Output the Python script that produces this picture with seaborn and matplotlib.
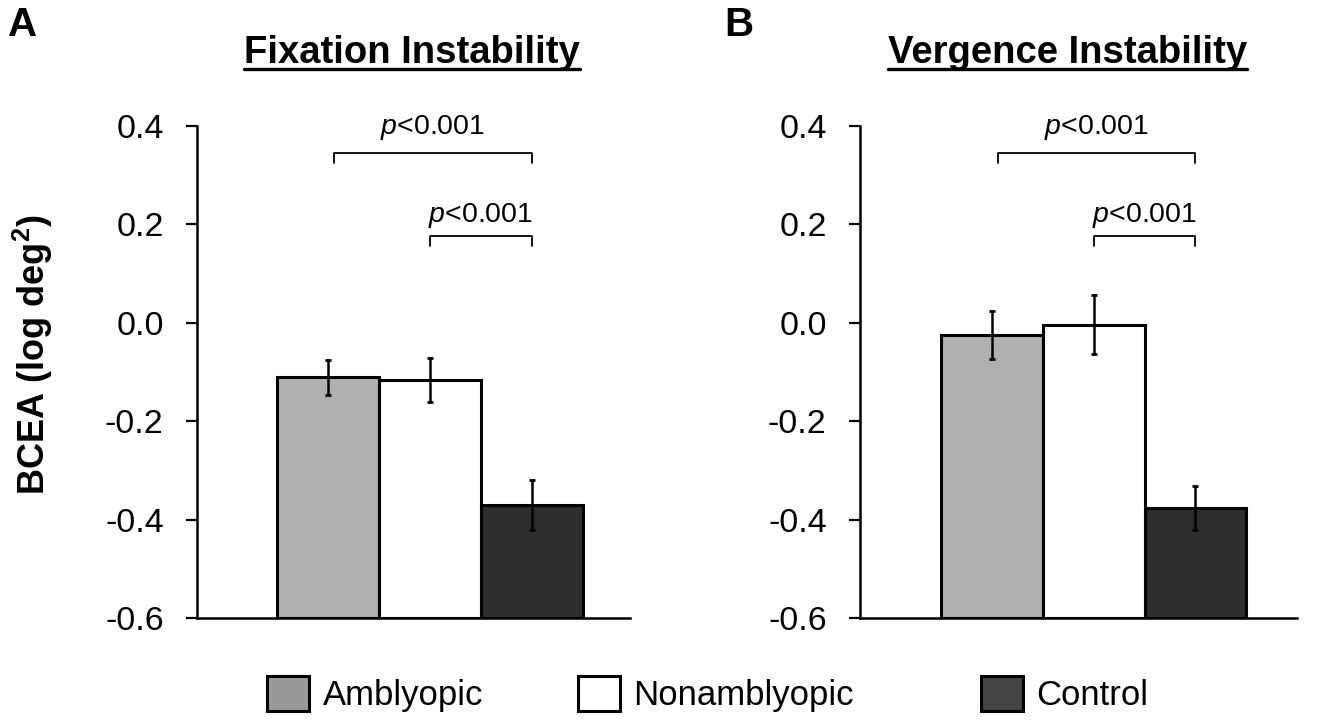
import matplotlib
matplotlib.use("Agg")
import matplotlib.pyplot as plt
import seaborn as sns
import pandas as pd
from matplotlib.patches import Patch
from matplotlib.lines import Line2D

# data
groups = ["Amblyopic", "Nonamblyopic", "Control"]
fixation_mean = [-0.111, -0.116, -0.370]
fixation_err = [0.035, 0.045, 0.051]
vergence_mean = [-0.024, -0.004, -0.376]
vergence_err = [0.049, 0.060, 0.045]
panel_titles = ["Fixation Instability", "Vergence Instability"]
bar_colors = ["#b0b0b0", "#ffffff", "#2e2e2e"]
legend_colors = ["#999999", "#ffffff", "#444444"]
yticks = [0.4, 0.2, 0.0, -0.2, -0.4, -0.6]
sig_text = "$p$<0.001"
base = -0.6

sns.set_style("white")
plt.rcParams["font.family"] = ["Liberation Sans", "DejaVu Sans"]
plt.rcParams["mathtext.fontset"] = "custom"
plt.rcParams["mathtext.rm"] = "Liberation Sans"
plt.rcParams["mathtext.it"] = "Liberation Sans:italic"
plt.rcParams["mathtext.bf"] = "Liberation Sans:bold"
for k in ["text.color", "axes.labelcolor", "xtick.color", "ytick.color"]:
    plt.rcParams[k] = "black"

fig = plt.figure(figsize=(13.34, 7.23), dpi=100)
axes = [fig.add_axes([0.1477, 0.1452, 0.3246, 0.6805]),
        fig.add_axes([0.6447, 0.1452, 0.3276, 0.6805])]
xlims = [(-1.28, 2.96), (-1.30, 3.0)]
title_x = [0.309, 0.800]

panels = [(fixation_mean, fixation_err), (vergence_mean, vergence_err)]
titles = []
for ax, (means, errs), title, xl, tx in zip(axes, panels, panel_titles, xlims, title_x):
    df = pd.DataFrame({"group": groups, "bcea": means})
    sns.barplot(data=df, x="group", y="bcea", hue="group", palette=bar_colors,
                order=groups, hue_order=groups, width=1.0, edgecolor="black",
                linewidth=2.2, legend=False, ax=ax, zorder=2)
    # bars rise from the bottom of the axis, not from zero
    for p in ax.patches:
        h = p.get_y() + p.get_height()
        p.set_y(base)
        p.set_height(h - base)
    ax.errorbar(range(3), means, yerr=errs, fmt="none", ecolor="black",
                elinewidth=1.8, capsize=2.5, capthick=2, zorder=3)
    ax.set_xlim(*xl)
    ax.set_ylim(base, 0.4)
    ax.set_yticks(yticks)
    ax.set_yticklabels([f"{t:.1f}" for t in yticks], fontsize=24.5)
    ax.set_xticks([])
    ax.set_xlabel("")
    ax.set_ylabel("")
    for s in ["top", "right"]:
        ax.spines[s].set_visible(False)
    for s in ["left", "bottom"]:
        ax.spines[s].set_linewidth(1.8)
        ax.spines[s].set_color("black")
    ax.tick_params(axis="y", direction="out", length=8, width=1.6, pad=16, left=True)

    # significance brackets
    for x0, x1, yb, yt in [(0.06, 2.0, 0.345, 0.398), (1.0, 2.0, 0.176, 0.219)]:
        ax.plot([x0, x0, x1, x1], [yb - 0.02, yb, yb, yb - 0.02],
                color="black", lw=1.3, clip_on=False)
        ax.text((x0 + x1) / 2, yt, sig_text, ha="center", va="center", fontsize=20.5)

    t = fig.text(tx, 0.9129, title, ha="center", va="baseline",
                 fontsize=27.5, fontweight="bold")
    titles.append(t)

fig.text(0.006, 0.965, "A", fontsize=29, fontweight="bold", va="center")
fig.text(0.543, 0.965, "B", fontsize=29, fontweight="bold", va="center")
fig.text(0.025, 0.509, "BCEA (log deg$^\\mathbf{2}$)", rotation=90, fontsize=26,
         fontweight="bold", ha="center", va="center")

# underline titles
fig.canvas.draw()
renderer = fig.canvas.get_renderer()
inv = fig.transFigure.inverted()
for t in titles:
    bb = t.get_window_extent(renderer)
    (x0, _), (x1, _) = inv.transform([[bb.x0, bb.y0], [bb.x1, bb.y1]])
    fig.add_artist(Line2D([x0, x1], [0.9046, 0.9046], color="black",
                          lw=2.4, transform=fig.transFigure))

# legend, placed entry by entry
legend_x = [267 / 1334, 578 / 1334, 981 / 1334]
for name, col, lx in zip(groups, legend_colors, legend_x):
    fig.legend(handles=[Patch(facecolor=col, edgecolor="black", linewidth=2.2)],
               labels=[name], loc="center left", bbox_to_anchor=(lx, 0.040),
               frameon=False, fontsize=25, handlelength=1.2,
               handleheight=1.2, handletextpad=0.4, borderpad=0.0,
               borderaxespad=0.0)

fig.savefig("out.png", dpi=100)
